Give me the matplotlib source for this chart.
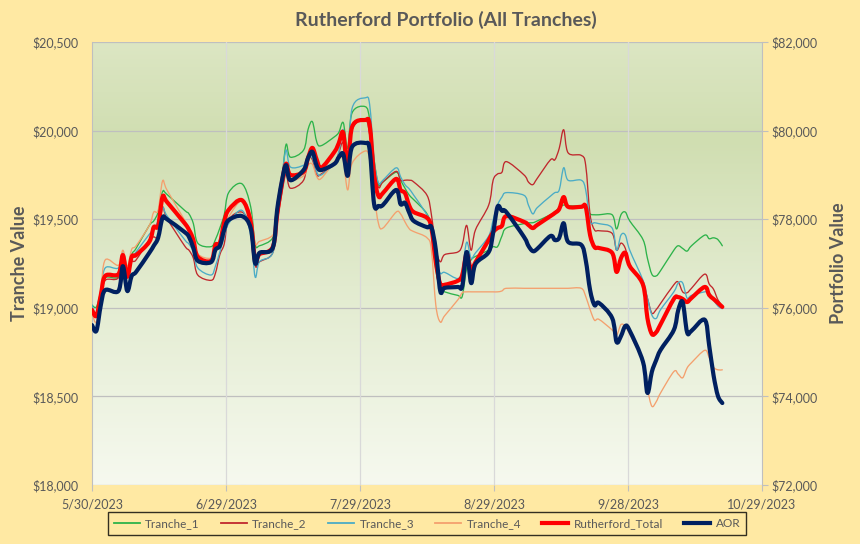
import matplotlib
matplotlib.use("Agg")
import matplotlib.pyplot as plt
import matplotlib.dates as mdates
from matplotlib.colors import LinearSegmentedColormap
from matplotlib.lines import Line2D
from matplotlib.path import Path
from matplotlib.patches import PathPatch
import numpy as np
import pandas as pd

plt.rcParams['font.family'] = ['Lato', 'DejaVu Sans']

dates = [
    "2023-05-30", "2023-05-31",
    "2023-06-01", "2023-06-02", "2023-06-05", "2023-06-06", "2023-06-07", "2023-06-08", "2023-06-09",
    "2023-06-12", "2023-06-13", "2023-06-14", "2023-06-15", "2023-06-16", "2023-06-20", "2023-06-21",
    "2023-06-22", "2023-06-23", "2023-06-26", "2023-06-27", "2023-06-28", "2023-06-29", "2023-06-30",
    "2023-07-03", "2023-07-05", "2023-07-06", "2023-07-07", "2023-07-10", "2023-07-11", "2023-07-12",
    "2023-07-13", "2023-07-14", "2023-07-17", "2023-07-18", "2023-07-19", "2023-07-20", "2023-07-21",
    "2023-07-24", "2023-07-25", "2023-07-26", "2023-07-27", "2023-07-28", "2023-07-31",
    "2023-08-01", "2023-08-02", "2023-08-03", "2023-08-04", "2023-08-07", "2023-08-08", "2023-08-09",
    "2023-08-10", "2023-08-11", "2023-08-14", "2023-08-15", "2023-08-16", "2023-08-17", "2023-08-18",
    "2023-08-21", "2023-08-22", "2023-08-23", "2023-08-24", "2023-08-25", "2023-08-28", "2023-08-29",
    "2023-08-30", "2023-08-31",
    "2023-09-01", "2023-09-05", "2023-09-06", "2023-09-07", "2023-09-08", "2023-09-11", "2023-09-12",
    "2023-09-13", "2023-09-14", "2023-09-15", "2023-09-18", "2023-09-19", "2023-09-20", "2023-09-21",
    "2023-09-22", "2023-09-25", "2023-09-26", "2023-09-27", "2023-09-28", "2023-09-29",
    "2023-10-02", "2023-10-03", "2023-10-04", "2023-10-05", "2023-10-06", "2023-10-09", "2023-10-10",
    "2023-10-11", "2023-10-12", "2023-10-13", "2023-10-16", "2023-10-17", "2023-10-18", "2023-10-19",
    "2023-10-20",
]

tranche_1 = [
    19015, 19005,
    19090, 19170, 19175, 19290, 19195, 19300, 19335, 19465, 19490, 19540, 19655, 19640, 19550, 19530,
    19475, 19365, 19345, 19385, 19450, 19525, 19650,
    19700, 19570, 19360, 19350, 19395, 19525, 19695, 19920, 19850, 19890, 20005, 20050, 19935, 19915,
    19965, 19990, 20045, 19900, 20100, 20135,
    20060, 19835, 19695, 19710, 19765, 19720, 19675, 19635, 19610, 19530, 19440, 19215, 19110, 19090,
    19070, 19065, 19225, 19270, 19290, 19325, 19345, 19345, 19405,
    19450, 19475, 19480, 19480, 19490, 19525, 19540, 19565, 19580, 19575, 19575, 19570, 19530, 19525,
    19525, 19525, 19445, 19525, 19540, 19490,
    19385, 19280, 19190, 19180, 19210, 19325, 19350, 19335, 19320, 19350, 19410, 19390, 19395, 19385,
    19350,
]

tranche_2 = [
    19000, 18955,
    19055, 19155, 19170, 19305, 19195, 19260, 19270, 19385, 19400, 19405, 19565, 19505, 19350, 19325,
    19280, 19185, 19155, 19195, 19300, 19360, 19495,
    19540, 19450, 19240, 19260, 19310, 19485, 19635, 19755, 19675, 19720, 19845, 19835, 19750, 19755,
    19815, 19875, 19930, 19765, 20005, 20060,
    19975, 19790, 19680, 19710, 19770, 19720, 19720, 19720, 19710, 19635, 19525, 19335, 19260, 19300,
    19315, 19355, 19465, 19325, 19440, 19580, 19720, 19755, 19765,
    19825, 19750, 19710, 19695, 19730, 19835, 19835, 19900, 20005, 19875, 19860, 19805, 19525, 19440,
    19435, 19420, 19325, 19365, 19335, 19245,
    19130, 19055, 18970, 18990, 19025, 19130, 19145, 19090, 19085, 19110, 19190, 19135, 19105, 19045,
    19010,
]

tranche_3 = [
    19015, 18965,
    19100, 19225, 19225, 19310, 19185, 19280, 19315, 19415, 19445, 19490, 19565, 19520, 19385, 19360,
    19315, 19225, 19185, 19235, 19315, 19400, 19475,
    19550, 19410, 19175, 19260, 19310, 19525, 19720, 19890, 19795, 19805, 19845, 19845, 19765, 19750,
    19815, 19880, 20005, 19805, 20125, 20185,
    20145, 19835, 19705, 19720, 19790, 19740, 19695, 19670, 19635, 19525, 19465, 19270, 19195, 19200,
    19165, 19215, 19370, 19280, 19310, 19405, 19495, 19580, 19625,
    19650, 19635, 19580, 19530, 19565, 19630, 19650, 19665, 19790, 19720, 19720, 19665, 19490, 19480,
    19475, 19450, 19325, 19410, 19410, 19325,
    19155, 19055, 18960, 18940, 18990, 19090, 19140, 19140, 19055, 19070, 19090, 19085, 19045, 19010,
    18995,
]

tranche_4 = [
    18970, 18920,
    19100, 19270, 19240, 19325, 19235, 19330, 19350, 19465, 19540, 19550, 19715, 19665, 19495, 19450,
    19410, 19305, 19280, 19335, 19385, 19410, 19510,
    19605, 19525, 19365, 19375, 19410, 19505, 19665, 19780, 19720, 19745, 19805, 19810, 19740, 19730,
    19825, 19845, 19835, 19665, 19815, 19885,
    19835, 19635, 19475, 19450, 19540, 19530, 19485, 19445, 19430, 19395, 19325, 19015, 18920, 18955,
    19045, 19085, 19090, 19090, 19090, 19090, 19090, 19090, 19095,
    19110, 19110, 19110, 19110, 19110, 19110, 19110, 19110, 19110, 19110, 19110, 19065, 18990, 18930,
    18935, 18875, 18845, 18905, 18895, 18850,
    18695, 18545, 18445, 18470, 18520, 18640, 18625, 18605, 18660, 18690, 18760, 18720, 18665, 18650,
    18650,
]

rutherford_total = [
    75950, 75820,
    76290, 76720, 76760, 77190, 76700, 77150, 77190, 77490, 77820, 77850, 78500, 78390, 77910, 77760,
    77530, 77150, 77060, 77420, 77460, 77940, 78210,
    78430, 77940, 77060, 77210, 77370, 78100, 78770, 79250, 79000, 79070, 79380, 79610, 79340, 79160,
    79520, 79720, 79950, 79070, 80080, 80240,
    80130, 79000, 78520, 78590, 78910, 78660, 78590, 78300, 78160, 78030, 77800, 77030, 76540, 76520,
    76610, 76740, 77210, 76850, 77030, 77530, 77710, 77800, 77850,
    78070, 77940, 77870, 77800, 77870, 78070, 78140, 78230, 78500, 78280, 78280, 78280, 77640, 77370,
    77350, 77240, 76810, 77120, 77240, 76940,
    76520, 75770, 75410, 75450, 75630, 76200, 76240, 76200, 76130, 76220, 76470, 76290, 76200, 76110,
    76020,
]

aor = [
    75610, 75480,
    76060, 76400, 76380, 76940, 76380, 76720, 76810, 77240, 77400, 77580, 78030, 78000, 77710, 77600,
    77350, 77060, 77030, 77310, 77400, 77760, 77980,
    78070, 77800, 77010, 77240, 77350, 78210, 78820, 79220, 78880, 79110, 79380, 79520, 79200, 79110,
    79250, 79400, 79470, 78980, 79630, 79720,
    79560, 78340, 78300, 78320, 78660, 78340, 78370, 78140, 77960, 77820, 77820, 77310, 76380, 76450,
    76470, 76490, 77260, 76560, 76990, 77260, 77690, 78280, 78190,
    78160, 77600, 77400, 77280, 77330, 77620, 77530, 77580, 77910, 77490, 77420, 77080, 76400, 76060,
    76110, 75770, 75230, 75360, 75590, 75480,
    74780, 74080, 74550, 74820, 75050, 75500, 75950, 76130, 75450, 75480, 75730, 75160, 74480, 74010,
    73850,
]

x_tick_labels = ["5/30/2023", "6/29/2023", "7/29/2023", "8/29/2023", "9/28/2023", "10/29/2023"]
left_ticks = [18000, 18500, 19000, 19500, 20000, 20500]
right_ticks = [72000, 74000, 76000, 78000, 80000, 82000]
series_names = ["Tranche_1", "Tranche_2", "Tranche_3", "Tranche_4", "Rutherford_Total", "AOR"]
title = "Rutherford Portfolio (All Tranches)"

# ---------------------------------------------------------------------------
x = mdates.date2num(pd.to_datetime(dates))
x0 = mdates.date2num(pd.Timestamp("2023-05-30"))
x1 = mdates.date2num(pd.Timestamp("2023-10-29"))


def smooth_line(axis, xs, ys, **kw):
    """Draw a smoothed (Excel-like) line through the data via cubic Bezier segments."""
    xs = np.asarray(xs, float)
    ys = np.asarray(ys, float)
    p = np.column_stack([xs, ys])
    n = len(p)
    verts = [p[0]]
    codes = [Path.MOVETO]
    for i in range(n - 1):
        p0 = p[i - 1] if i > 0 else p[i]
        p1 = p[i]
        p2 = p[i + 1]
        p3 = p[i + 2] if i + 2 < n else p[i + 1]
        c1 = p1 + (p2 - p0) / 6.0
        c2 = p2 - (p3 - p1) / 6.0
        verts += [c1, c2, p2]
        codes += [Path.CURVE4] * 3
    patch = PathPatch(Path(verts, codes), fill=False, transform=axis.transData,
                      capstyle="round", joinstyle="round", **kw)
    axis.add_patch(patch)
    return patch


W, H = 860, 544
fig = plt.figure(figsize=(W / 100, H / 100), dpi=100)
fig.patch.set_facecolor("#FFE9A3")

L, R, B, T = 92 / W, 762 / W, 1 - 485 / H, 1 - 42 / H
rect = [L, B, R - L, T - B]

# gradient plot-area background
bg = fig.add_axes(rect, zorder=-1)
cmap = LinearSegmentedColormap.from_list(
    "bg", [(0.0, "#DCE6C3"), (0.22, "#D0DEB1"), (0.55, "#E2EBCF"), (1.0, "#F6F9EF")])
grad = np.linspace(0, 1, 256).reshape(-1, 1)
bg.imshow(grad, aspect="auto", cmap=cmap, extent=[0, 1, 0, 1], origin="upper")
bg.set_axis_off()

ax = fig.add_axes(rect, zorder=0)
ax.patch.set_visible(False)
ax2 = ax.twinx()
ax2.patch.set_visible(False)

text_col = "#595959"
grid_h = "#BFBFBF"
grid_v = "#D9D9D9"

colors = ["#2DB34A", "#C0282D", "#4BACC6", "#F4A06E", "#FF0000", "#002060"]
thin = 0.95
thick = 3.0

smooth_line(ax, x, tranche_1, edgecolor=colors[0], lw=thin, zorder=3)
smooth_line(ax, x, tranche_2, edgecolor=colors[1], lw=thin, zorder=3)
smooth_line(ax, x, tranche_3, edgecolor=colors[2], lw=thin, zorder=3)
smooth_line(ax, x, tranche_4, edgecolor=colors[3], lw=thin, zorder=3)
smooth_line(ax2, x, rutherford_total, edgecolor=colors[4], lw=thick, zorder=4)
smooth_line(ax2, x, aor, edgecolor=colors[5], lw=thick, zorder=5)

ax.set_xlim(x0, x1)
ax.set_ylim(18000, 20500)
ax2.set_ylim(72000, 82000)

xt = np.linspace(x0, x1, 6)
ax.set_xticks(xt)
ax.set_xticklabels(x_tick_labels)
ax.set_yticks(left_ticks)
ax.set_yticklabels([f"${v:,.0f}" for v in left_ticks])
ax2.set_yticks(right_ticks)
ax2.set_yticklabels([f"${v:,.0f}" for v in right_ticks])

for a in (ax, ax2):
    for s in a.spines.values():
        s.set_visible(False)
ax.spines["left"].set_visible(True)
ax.spines["left"].set_color(grid_h)
ax2.spines["right"].set_visible(True)
ax2.spines["right"].set_color(grid_h)

# grid lines
for v in left_ticks:
    ax.axhline(v, color=grid_h, lw=0.9, zorder=1)
for v in xt[1:-1]:
    ax.axvline(v, color=grid_v, lw=0.9, zorder=1)

ax.tick_params(axis="x", colors=grid_h, labelcolor=text_col, labelsize=9, length=4, pad=6)
ax.tick_params(axis="y", length=0, labelcolor=text_col, labelsize=9, pad=10)
ax2.tick_params(axis="y", colors=grid_h, labelcolor=text_col, labelsize=9, length=4, pad=3)

fig.text(446 / W, 1 - 20 / H, title, ha="center", va="center", fontsize=14,
         fontweight="bold", color=text_col)
fig.text(20 / W, 1 - 263 / H, "Tranche Value", ha="center", va="center", rotation=90,
         fontsize=13, fontweight="bold", color=text_col)
fig.text(838 / W, 1 - 263 / H, "Portfolio Value", ha="center", va="center", rotation=90,
         fontsize=13, fontweight="bold", color=text_col)

handles = [Line2D([], [], color=colors[i], lw=(1.3 if i < 4 else thick)) for i in range(6)]
leg = fig.legend(handles, series_names, loc="center", ncol=6,
                 bbox_to_anchor=(427 / W, 1 - 523.5 / H), frameon=True, fancybox=False,
                 edgecolor="black", facecolor="none", fontsize=8.5, handlelength=2.2,
                 columnspacing=1.8, handletextpad=0.45, borderpad=0.5, borderaxespad=0)
leg.get_frame().set_linewidth(1.0)
for t in leg.get_texts():
    t.set_color(text_col)

fig.savefig("out.png", dpi=100, facecolor=fig.get_facecolor())
